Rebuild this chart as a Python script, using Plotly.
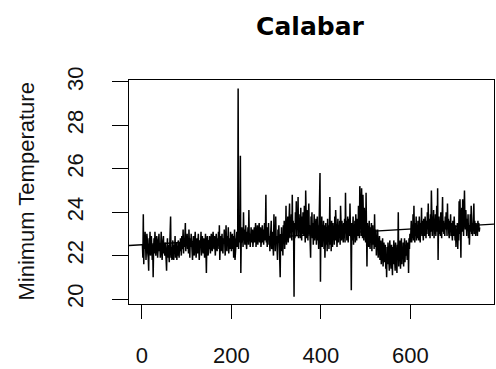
import plotly.graph_objects as go

title_text = "Calabar"
y_label = "Minimum Temperature"
x_ticks = [0, 200, 400, 600]
y_ticks = [20, 22, 24, 26, 28, 30]

seg01 = [22.5, 21.9, 23.9, 21.6, 22.9, 22.3, 23.1, 22.6, 21.8, 22.4, 23.0, 22.7, 22.1, 21.9, 21.3, 22.8, 22.4, 23.1, 22.0, 22.6, 22.9, 22.2, 21.8, 22.5, 21.0, 22.3, 22.8, 22.1, 23.1, 22.6, 22.0, 22.4, 22.9, 22.7, 21.9, 22.3, 22.8, 23.0, 22.2, 22.5, 21.9, 22.6, 23.1, 22.4, 21.8, 22.2, 22.7, 22.9, 22.1, 22.5]
seg02 = [22.0, 22.6, 22.2, 21.8, 21.3, 22.4, 22.8, 21.9, 22.5, 22.1, 21.7, 22.6, 22.3, 23.8, 21.9, 22.4, 21.8, 22.2, 22.7, 22.0, 21.8, 22.5, 22.2, 22.9, 21.9, 22.1, 22.6, 21.8, 22.3, 22.0, 22.7, 22.4, 21.9, 22.6, 22.2, 22.8, 22.5, 22.0, 22.9, 22.3, 22.6, 23.2, 22.1, 22.7, 22.4, 23.0, 23.5, 22.2, 22.8, 22.5]
seg03 = [23.0, 22.3, 22.7, 22.1, 23.2, 22.6, 21.9, 22.8, 22.4, 23.0, 22.2, 22.6, 21.8, 22.4, 22.9, 22.3, 22.0, 22.7, 23.1, 22.5, 21.9, 22.3, 22.8, 22.1, 22.6, 23.0, 22.4, 21.8, 22.2, 22.7, 22.5, 23.1, 22.0, 22.4, 22.9, 22.6, 22.1, 22.8, 22.3, 21.9, 22.5, 23.0, 22.2, 21.2, 22.6, 22.9, 22.4, 22.0, 22.7, 22.3]
seg04 = [22.9, 22.4, 22.1, 22.7, 23.0, 22.5, 22.2, 22.8, 23.1, 22.6, 22.3, 22.9, 22.4, 22.0, 22.7, 23.0, 22.5, 22.2, 22.8, 22.6, 23.1, 22.3, 23.4, 21.8, 22.5, 22.9, 22.2, 22.7, 23.0, 22.4, 22.1, 22.8, 22.6, 23.2, 22.3, 22.0, 22.7, 23.4, 22.5, 22.2, 22.9, 22.6, 23.3, 22.1, 22.5, 22.8, 22.3, 23.1, 22.6, 22.2]
seg05 = [22.7, 23.0, 22.3, 22.9, 21.9, 22.6, 23.2, 21.8, 22.5, 22.1, 22.8, 23.1, 22.4, 22.7, 29.7, 22.3, 22.9, 22.6, 23.2, 26.6, 21.2, 22.8, 23.3, 22.6, 23.0, 22.4, 24.0, 22.7, 23.2, 22.5, 22.9, 23.4, 22.6, 22.3, 23.1, 22.8, 23.3, 22.5, 24.1, 22.7, 23.0, 22.4, 22.9, 23.3, 22.6, 22.8, 23.2, 22.4, 23.0, 22.7]
seg06 = [23.3, 22.6, 22.9, 23.5, 22.4, 23.0, 22.7, 23.4, 22.5, 23.1, 22.8, 23.5, 22.6, 22.9, 23.3, 22.4, 23.0, 22.7, 23.4, 22.6, 23.2, 22.5, 22.9, 23.5, 22.7, 23.1, 24.8, 22.6, 23.0, 22.4, 23.3, 22.8, 23.5, 22.5, 22.9, 22.2, 23.2, 22.6, 23.6, 22.3, 22.8, 23.1, 22.4, 22.0, 23.9, 22.5, 23.0, 22.2, 23.8, 22.6]
seg07 = [22.9, 22.3, 21.8, 23.2, 22.6, 23.4, 22.1, 22.7, 21.0, 23.0, 22.5, 23.3, 22.2, 22.8, 22.0, 23.4, 22.6, 23.6, 22.3, 23.0, 22.7, 24.3, 22.5, 23.3, 22.9, 23.8, 22.6, 23.5, 23.0, 24.4, 22.8, 23.7, 23.2, 23.9, 22.7, 24.8, 23.1, 23.6, 22.9, 20.1, 23.5, 22.8, 24.0, 23.2, 24.5, 22.9, 23.7, 23.3, 24.7, 22.8]
seg08 = [23.9, 23.1, 23.6, 22.8, 24.2, 23.3, 22.7, 23.8, 23.0, 24.0, 23.4, 22.9, 24.3, 23.2, 22.6, 25.0, 23.5, 22.8, 24.1, 23.1, 22.7, 23.7, 24.4, 23.0, 23.4, 22.6, 21.9, 23.8, 23.2, 24.0, 22.8, 23.5, 22.5, 23.3, 23.9, 22.7, 23.4, 23.0, 23.7, 22.5, 23.2, 23.8, 22.7, 23.4, 22.3, 23.6, 22.9, 25.8, 20.8, 23.5]
seg09 = [22.6, 23.8, 22.4, 23.2, 22.9, 23.6, 22.3, 23.4, 21.9, 23.0, 23.5, 22.5, 23.3, 22.2, 23.7, 22.8, 23.4, 22.3, 23.1, 24.7, 22.5, 23.5, 22.2, 23.6, 22.9, 22.4, 23.5, 23.0, 23.3, 22.5, 23.8, 22.7, 24.1, 22.9, 23.5, 22.4, 23.1, 23.7, 22.6, 23.4, 22.9, 23.6, 22.5, 24.3, 23.2, 22.7, 23.6, 23.0, 23.3, 22.6]
seg10 = [23.5, 22.8, 23.7, 22.6, 24.9, 23.1, 23.6, 22.7, 23.4, 23.8, 22.6, 23.2, 23.7, 22.9, 24.4, 23.3, 22.8, 20.4, 23.5, 22.7, 23.1, 23.8, 22.5, 23.4, 22.9, 23.6, 22.6, 23.9, 23.1, 22.7, 23.7, 23.2, 22.9, 24.3, 23.3, 22.8, 25.2, 23.5, 24.0, 22.9, 25.1, 23.6, 22.8, 24.8, 23.4, 22.7, 24.2, 23.1, 23.8, 22.6]
seg11 = [24.9, 23.2, 21.5, 23.5, 22.7, 23.1, 22.4, 23.6, 22.9, 22.3, 23.3, 22.6, 23.5, 22.2, 23.0, 23.4, 22.5, 23.1, 22.3, 23.9, 22.7, 22.4, 23.2, 22.0, 22.8, 22.5, 23.2, 21.9, 22.6, 22.2, 22.9, 21.8, 22.4, 22.7, 21.6, 22.3, 21.9, 22.8, 21.5, 22.2, 22.6, 21.7, 22.0, 22.5, 21.4, 21.9, 21.0, 22.4, 21.6, 22.6]
seg12 = [21.7, 22.3, 21.3, 22.7, 21.8, 22.1, 21.4, 22.5, 22.0, 21.1, 22.4, 21.6, 22.7, 21.9, 22.2, 21.3, 22.6, 21.8, 22.1, 21.2, 22.5, 21.9, 24.0, 21.5, 22.3, 21.8, 22.7, 21.4, 22.0, 22.8, 21.6, 22.4, 21.9, 22.6, 21.5, 22.2, 22.8, 21.7, 22.4, 22.0, 22.7, 22.2, 21.8, 22.6, 22.4, 21.2, 22.8, 22.3, 23.0, 22.6]
seg13 = [23.0, 23.6, 22.6, 23.4, 22.8, 23.9, 22.7, 24.3, 23.1, 22.6, 23.5, 22.9, 23.8, 22.7, 23.3, 22.8, 23.6, 23.0, 22.7, 23.8, 23.2, 22.6, 23.5, 23.0, 24.2, 22.9, 23.6, 23.1, 22.7, 23.7, 23.2, 22.9, 23.8, 23.4, 22.8, 23.6, 23.0, 24.0, 23.2, 24.4, 22.9, 23.7, 23.3, 22.8, 23.9, 23.1, 25.0, 23.4, 22.9, 23.8]
seg14 = [23.2, 24.1, 22.8, 23.7, 23.0, 23.9, 22.9, 23.5, 24.3, 23.1, 25.1, 21.8, 23.5, 23.8, 23.0, 23.6, 22.9, 24.0, 23.3, 22.8, 23.7, 24.7, 23.1, 23.6, 23.0, 23.5, 22.9, 23.8, 23.2, 24.0, 23.5, 22.9, 24.4, 23.2, 23.7, 23.0, 22.8, 23.6, 23.1, 23.9, 22.9, 23.5, 23.0, 22.7, 23.6, 23.2, 22.9, 23.8, 23.1, 22.7]
seg15 = [23.4, 22.4, 23.1, 22.8, 23.5, 22.3, 23.2, 22.7, 24.5, 23.0, 24.6, 23.4, 21.9, 23.8, 24.2, 23.1, 24.6, 23.5, 22.9, 24.0, 25.0, 23.6, 23.2, 24.1, 23.4, 22.9, 23.7, 23.2, 23.9, 22.8, 23.4, 22.5, 23.6, 23.9, 23.1, 24.3, 23.0, 23.5, 22.9, 23.8, 23.3, 24.4, 23.0, 23.6, 23.2, 22.9, 23.5, 23.1, 23.4, 22.9, 23.6, 23.2, 23.5, 23.1, 23.3]

min_temp = (seg01 + seg02 + seg03 + seg04 + seg05 + seg06 + seg07 + seg08
            + seg09 + seg10 + seg11 + seg12 + seg13 + seg14 + seg15)
index = list(range(1, len(min_temp) + 1))

# trend line (value at index 0, slope per step)
trend_intercept = 22.50
trend_slope = 0.00121

x_range = [-29, 787]
y_range = [19.77, 30.09]

fit_x = x_range
fit_y = [trend_intercept + trend_slope * v for v in fit_x]

font_main = "Liberation Sans, Arial, sans-serif"

fig = go.Figure()
fig.add_trace(go.Scatter(x=index, y=min_temp, mode="lines",
                         line=dict(color="black", width=1.5), showlegend=False,
                         hoverinfo="skip"))
fig.add_trace(go.Scatter(x=fit_x, y=fit_y, mode="lines",
                         line=dict(color="black", width=1.3), showlegend=False,
                         hoverinfo="skip"))

axis_common = dict(showgrid=False, zeroline=False, showline=True, mirror=True,
                   linecolor="black", linewidth=1, ticks="outside",
                   tickcolor="black", tickwidth=1,
                   tickfont=dict(family=font_main, size=22, color="#111111"))

fig.update_layout(
    width=496, height=369,
    margin=dict(l=129, r=1, t=80, b=57, pad=0),
    paper_bgcolor="white", plot_bgcolor="white",
    title=dict(text=title_text, x=310 / 496, xanchor="center",
               y=1 - 26 / 369, yanchor="middle", yref="container",
               font=dict(family="DejaVu Sans, sans-serif", size=25, color="black",
                         weight="bold")),
    xaxis=dict(range=x_range, tickvals=x_ticks, ticklen=14,
               ticklabelstandoff=18, **axis_common),
    yaxis=dict(range=y_range, tickvals=y_ticks, ticklen=16, tickangle=-90,
               ticklabelstandoff=20, **axis_common),
    annotations=[dict(text=y_label, xref="paper", yref="paper",
                      x=-104 / 367, y=0.5, xanchor="center", yanchor="middle",
                      textangle=-90, showarrow=False,
                      font=dict(family=font_main, size=22, color="#111111"))],
)

fig.write_html("out.html")
